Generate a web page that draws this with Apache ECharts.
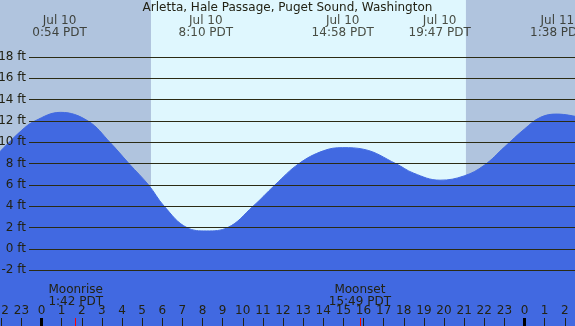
<!DOCTYPE html>
<html>
<head>
<meta charset="utf-8">
<script src="https://cdn.jsdelivr.net/npm/echarts@6/dist/echarts.min.js"></script>
<style>
  html, body { margin: 0; padding: 0; background: #B0C4DE; }
  #chart { width: 575px; height: 326px; }
</style>
</head>
<body>
<div id="chart"></div>
<script>
// tide height (ft), by hour of Jul 10 (24 and up = Jul 11)
const tideHours = [-2.1, -1, -0.33, 0.94, 2.31, 3.4, 4.35, 5.32, 6.1, 7.23, 8.2, 9.24, 10.51, 11.6, 12.79, 14, 14.97, 16, 17.61, 18.5, 19.8, 21, 22, 23, 24, 24.8, 25.63, 26.6];
const tideFeet  = [9.05, 11.1, 12.0, 12.81, 12.0, 10.0, 8.0, 6.0, 4.0, 2.0, 1.69, 2.0, 4.0, 6.0, 8.0, 9.2, 9.5, 9.35, 8.0, 7.1, 6.45, 6.85, 7.85, 9.55, 11.25, 12.35, 12.65, 12.4];

// highs / lows shown along the top
const extremeHours  = [0.9, 8.167, 14.967, 19.783, 25.633];
const extremeLabels = ['Jul 10\n0:54 PDT', 'Jul 10\n8:10 PDT', 'Jul 10\n14:58 PDT', 'Jul 10\n19:47 PDT', 'Jul 11\n1:38 PDT'];

// sunrise / sunset (daylight band)
const sunHours = [5.44, 21.09];

// moon events
const moonHours  = [1.7, 15.817, 26.25];
const moonLabels = ['Moonrise\n1:42 PDT', 'Moonset\n15:49 PDT', 'Moonrise\n2:15 PDT'];

const midnightHours = [0, 24];

const BLUE = '#4169E1';
const DAY = '#DFF7FE';
const INK = '#222214';
const FONT = 'DejaVu Sans';

// hour 0 sits at x=41.5, 20.125 px per hour; 18 ft at y=57, 10.665 px per ft
const X_MIN = -41.5 / 20.125, X_MAX = (575 - 41.5) / 20.125;
const Y_MAX = 18 + 57 / 10.665, Y_MIN = -2 - 55.7 / 10.665;
const LABEL_FT = Y_MAX - 26.5 / 10.665;

const chart = echarts.init(document.getElementById('chart'));

chart.setOption({
  backgroundColor: '#B0C4DE',
  animation: false,
  title: {
    text: 'Arletta, Hale Passage, Puget Sound, Washington',
    left: 'center', top: 1, padding: 0,
    textStyle: { fontSize: 12, fontWeight: 'normal', color: INK, fontFamily: FONT, lineHeight: 14 }
  },
  grid: [
    { left: 0, right: 0, top: 0, bottom: 0, outerBoundsMode: 'none', containLabel: false },
    { left: 29, right: 0, top: 57, height: 213.3, outerBoundsMode: 'none', containLabel: false },
    { left: 1.25, right: 10.25, top: 318, height: 8, outerBoundsMode: 'none', containLabel: false }
  ],
  xAxis: [
    { gridIndex: 0, type: 'value', min: X_MIN, max: X_MAX, show: false },
    { gridIndex: 1, type: 'value', min: 0, max: 1, show: false },
    {
      // hour ruler: split lines in the 8px strip act as the tick marks
      gridIndex: 2, type: 'value', min: -2, max: 26, interval: 1, position: 'top', z: 5,
      axisLine: { show: false },
      axisTick: { show: false },
      axisLabel: {
        margin: 1, showMinLabel: true, showMaxLabel: true, hideOverlap: false,
        color: INK, fontSize: 12, fontFamily: FONT,
        formatter: v => String(((v % 24) + 24) % 24)
      },
      splitLine: { show: true, lineStyle: { color: INK, width: 1 } }
    }
  ],
  yAxis: [
    { gridIndex: 0, type: 'value', min: Y_MIN, max: Y_MAX, show: false },
    {
      gridIndex: 1, type: 'value', min: -2, max: 18, interval: 2, z: 5,
      axisLine: { show: false },
      axisTick: { show: false },
      axisLabel: { formatter: '{value} ft', margin: 3, color: INK, fontSize: 12, fontFamily: FONT },
      splitLine: { lineStyle: { color: '#2b2b14', width: 1 } }
    },
    { gridIndex: 2, type: 'value', min: 0, max: 1, show: false }
  ],
  series: [
    {
      type: 'line', xAxisIndex: 0, yAxisIndex: 0, data: [], z: 1, silent: true,
      markArea: {
        silent: true,
        itemStyle: { color: DAY, opacity: 1 },
        data: [[{ xAxis: sunHours[0] }, { xAxis: sunHours[1] }]]
      }
    },
    {
      type: 'line', xAxisIndex: 0, yAxisIndex: 0, z: 2, silent: true,
      smooth: 0.4, symbol: 'none',
      data: tideHours.map((h, i) => [h, tideFeet[i]]),
      lineStyle: { color: BLUE, width: 1 },
      areaStyle: { color: BLUE, opacity: 1, origin: 'start' }
    },
    {
      type: 'scatter', xAxisIndex: 0, yAxisIndex: 0, z: 6, silent: true,
      symbolSize: 1, itemStyle: { color: 'rgba(0,0,0,0)' },
      data: extremeHours.map(h => [h, LABEL_FT]),
      label: {
        show: true, position: 'inside', align: 'center', verticalAlign: 'middle',
        color: INK, fontSize: 12, fontFamily: FONT, lineHeight: 12,
        formatter: p => extremeLabels[p.dataIndex]
      }
    },
    {
      type: 'line', xAxisIndex: 2, yAxisIndex: 2, data: [], z: 6, silent: true,
      markLine: {
        silent: true, symbol: 'none', animation: false,
        lineStyle: { color: '#ff0000', width: 1, type: 'solid' },
        label: { position: 'end', distance: 10.5, color: INK, fontSize: 12, fontFamily: FONT, lineHeight: 12 },
        data: moonHours.map((h, i) => ({ xAxis: h, label: { formatter: moonLabels[i] } }))
      }
    },
    {
      type: 'line', xAxisIndex: 2, yAxisIndex: 2, data: [], z: 6, silent: true,
      markLine: {
        silent: true, symbol: 'none', animation: false,
        lineStyle: { color: '#000000', width: 3, type: 'solid' },
        label: { show: false },
        data: midnightHours.map(h => ({ xAxis: h }))
      }
    }
  ]
});
</script>
</body>
</html>
